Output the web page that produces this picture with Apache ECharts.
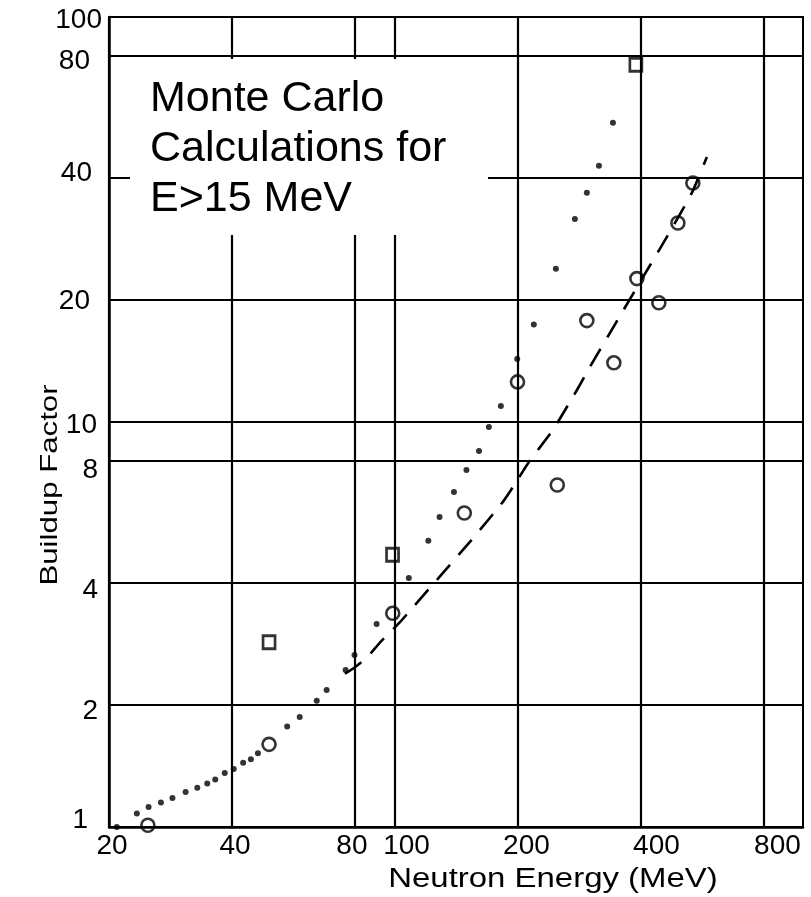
<!DOCTYPE html>
<html>
<head>
<meta charset="utf-8">
<title>Buildup Factor vs Neutron Energy</title>
<script src="https://cdn.jsdelivr.net/npm/echarts@6/dist/echarts.min.js"></script>
<style>
  html, body { margin: 0; padding: 0; background: #fff; }
  #chart { width: 811px; height: 897px; }
</style>
</head>
<body>
<div id="chart"></div>
<script>
// Axis tick / grid values
const energyTicks = [20, 40, 80, 100, 200, 400, 800];
const buildupTicks = [1, 2, 4, 8, 10, 20, 40, 80, 100];

// Monte Carlo results: [neutron energy (MeV), buildup factor]
const dotPoints = [
  [20.9, 1.00], [23.4, 1.08], [25.0, 1.12], [26.8, 1.15], [28.6, 1.18],
  [30.8, 1.22], [32.9, 1.25], [34.8, 1.28], [36.4, 1.31], [38.4, 1.36],
  [40.4, 1.39], [42.6, 1.44], [44.5, 1.47], [46.3, 1.52], [54.6, 1.77],
  [58.6, 1.87], [64.5, 2.05], [68.2, 2.18], [75.9, 2.44], [79.8, 2.66],
  [90.4, 3.17], [108.4, 4.12], [121.0, 5.09], [128.9, 5.83], [139.8, 6.72],
  [150.0, 7.61], [161.0, 8.48], [170.2, 9.72], [182.1, 10.96], [199.7, 14.3],
  [219.3, 17.4], [248.3, 23.9], [276.4, 31.7], [295.7, 36.8], [316.5, 42.9],
  [342.5, 54.8]
];
const circlePoints = [
  [24.9, 1.01], [49.3, 1.60], [99.0, 3.37], [148.2, 5.96], [200.0, 12.56],
  [250.3, 6.99], [295.7, 17.8], [344.3, 14.0], [392.0, 22.6], [443.7, 19.7],
  [494.0, 31.0], [537.5, 38.9]
];
const squarePoints = [
  [49.3, 2.86], [98.9, 4.70], [389.8, 76.2]
];
const dashedCurve = [
  [75.6, 2.39], [79.6, 2.47], [85.6, 2.62], [92.0, 2.85], [103.0, 3.20],
  [111.0, 3.49], [130.6, 4.21], [157.3, 5.23], [184.2, 6.35], [195.0, 6.91],
  [213.3, 7.97], [244.2, 9.56], [281.0, 12.1], [300.8, 13.68], [346.3, 17.4],
  [392.0, 21.5], [456.3, 27.8], [534.4, 36.8], [581.6, 45.1]
];

const FONT = "'Liberation Sans', Arial, Helvetica, sans-serif";

// Per-label nudges [dx, dy] in pixels, applied through rich-text padding
const xLabelNudge = { 20: [3, 0], 40: [3, 0], 80: [-3, 0], 100: [12, 0], 200: [9, 0], 400: [16, 0], 800: [14, 0] };
const yLabelNudge = { 1: [-14, -7], 2: [-4, 6], 4: [-4, 7], 8: [-4, 9], 10: [-5, 3], 20: [-12, 1], 40: [-10, -5], 80: [-12, 5], 100: [0, 3] };

function buildRich(nudge, centered) {
  const rich = {};
  const k = centered ? 2 : 1;
  Object.keys(nudge).forEach(function (v) {
    const dx = nudge[v][0], dy = nudge[v][1];
    rich['v' + v] = {
      fontFamily: FONT,
      fontSize: 28,
      color: '#000',
      padding: [Math.max(dy, 0) * 2, Math.max(-dx, 0) * k, Math.max(-dy, 0) * 2, Math.max(dx, 0) * k]
    };
  });
  return rich;
}

function labelText(value) {
  const v = Math.round(value);
  return '{v' + v + '|' + v + '}';
}

const chart = echarts.init(document.getElementById('chart'), null, { renderer: 'canvas' });

const option = {
  animation: false,
  backgroundColor: '#fff',
  grid: {
    left: 109, top: 17, width: 694, height: 810,
    show: true, borderColor: '#000', borderWidth: 2, backgroundColor: 'transparent'
  },
  xAxis: {
    type: 'log', logBase: 10, min: 20, max: 1000,
    axisLine: { show: true, lineStyle: { color: '#000', width: 2.5 } },
    axisTick: { show: false, customValues: energyTicks },
    axisLabel: {
      customValues: energyTicks, margin: 5, formatter: labelText,
      rich: buildRich(xLabelNudge, true), fontSize: 28, fontFamily: FONT, color: '#000'
    },
    splitLine: { show: true, lineStyle: { color: '#000', width: 2.2 } },
    minorTick: { show: false }, minorSplitLine: { show: false }
  },
  yAxis: {
    type: 'log', logBase: 10, min: 1, max: 100,
    axisLine: { show: true, lineStyle: { color: '#000', width: 2.5 } },
    axisTick: { show: false, customValues: buildupTicks },
    axisLabel: {
      customValues: buildupTicks, margin: 7, formatter: labelText,
      rich: buildRich(yLabelNudge, false), fontSize: 28, fontFamily: FONT, color: '#000'
    },
    splitLine: { show: true, lineStyle: { color: '#000', width: 2.2 } },
    minorTick: { show: false }, minorSplitLine: { show: false }
  },
  series: [
    {
      name: 'Fit', type: 'line', data: dashedCurve, showSymbol: false, symbol: 'none',
      smooth: 0.2, silent: true, z: 3,
      lineStyle: { color: '#000', width: 2.6, type: [20, 13] }
    },
    {
      name: 'Dots', type: 'scatter', data: dotPoints, symbol: 'circle', symbolSize: 6,
      itemStyle: { color: '#000' }, z: 4
    },
    {
      name: 'Circles', type: 'scatter', data: circlePoints, symbol: 'circle', symbolSize: 13,
      itemStyle: { color: 'rgba(0,0,0,0)', borderColor: '#000', borderWidth: 2.6 }, z: 5
    },
    {
      name: 'Squares', type: 'scatter', data: squarePoints, symbol: 'rect', symbolSize: [12, 13],
      itemStyle: { color: 'rgba(0,0,0,0)', borderColor: '#000', borderWidth: 2.8 }, z: 5
    }
  ],
  graphic: [
    {
      type: 'rect', z: 100,
      shape: { x: 130, y: 59, width: 358, height: 176 },
      style: { fill: '#fff' }
    },
    {
      type: 'text', z: 101, x: 150, y: 74,
      style: {
        text: 'Monte Carlo\nCalculations for\nE>15 MeV',
        fontSize: 43, fontFamily: FONT, fill: '#000',
        lineHeight: 50, textVerticalAlign: 'top'
      }
    },
    {
      type: 'text', z: 101, x: 553, y: 880, scaleX: 1.22,
      style: {
        text: 'Neutron Energy (MeV)', fontSize: 27, fontFamily: FONT, fill: '#000',
        textAlign: 'center', textVerticalAlign: 'middle'
      }
    },
    {
      type: 'text', z: 101, x: 50, y: 485, rotation: Math.PI / 2, scaleX: 1.3,
      style: {
        text: 'Buildup Factor', fontSize: 24, fontFamily: FONT, fill: '#000',
        textAlign: 'center', textVerticalAlign: 'middle'
      }
    }
  ]
};

chart.setOption(option);
</script>
</body>
</html>
